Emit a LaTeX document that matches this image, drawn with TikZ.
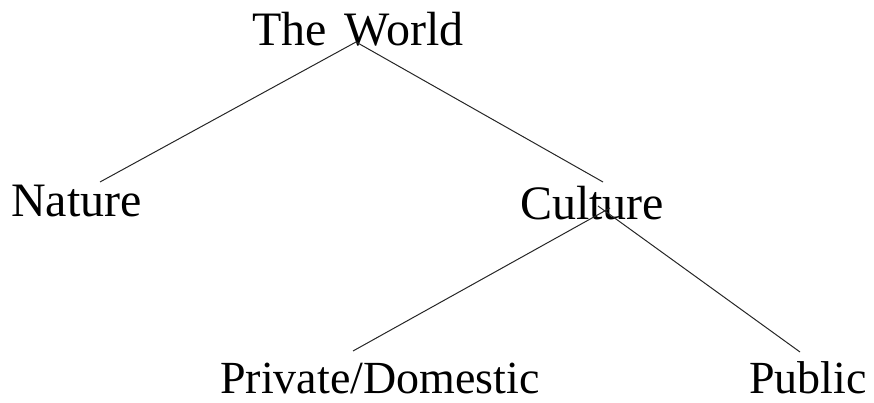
\documentclass[tikz,border=0pt]{standalone}
\usepackage{fontspec}
\setmainfont{Liberation Serif}
\begin{document}
\begin{tikzpicture}[x=1pt,y=-1pt,
  lbl/.style={anchor=base west,inner sep=0pt,font=\fontsize{48}{52}\selectfont},
  lblsm/.style={lbl,font=\fontsize{46}{50}\selectfont},
  edge/.style={line width=1pt,black!85}]
\useasboundingbox (0,0) rectangle (874,403);
\node[lbl] (world) at (252,46) {The\hspace{18pt}World};
\node[lbl] (nature) at (11,217) {Nature};
\node[lbl] (culture) at (520,219) {Culture};
\node[lblsm] (private) at (220,393) {Private/Domestic};
\node[lblsm] (public) at (749,393) {Public};
\coordinate (wtop) at (356,42);
\coordinate (nat) at (100,182);
\coordinate (cul) at (603,182);
\coordinate (cl) at (610,208);
\coordinate (cr) at (598,206);
\coordinate (pri) at (353,351);
\coordinate (pub) at (800,352);
\draw[edge] (wtop) -- (nat);
\draw[edge] (wtop) -- (cul);
\draw[edge] (cl) -- (pri);
\draw[edge] (cr) -- (pub);
\end{tikzpicture}
\end{document}
